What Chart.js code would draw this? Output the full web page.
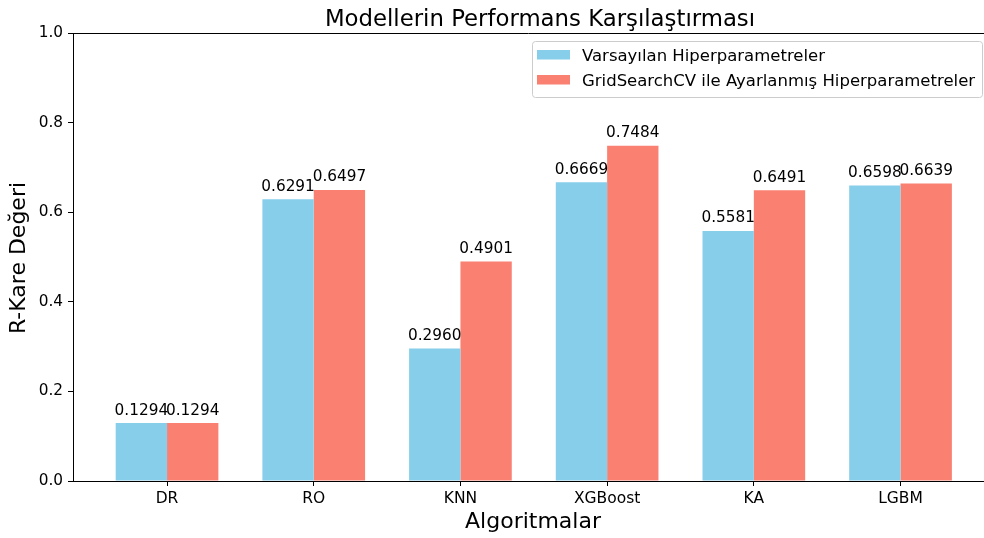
<!DOCTYPE html>
<html lang="tr">
<head>
<meta charset="utf-8">
<title>Modellerin Performans Karşılaştırması</title>
<script src="https://cdn.jsdelivr.net/npm/chart.js@4.4.1/dist/chart.umd.min.js"></script>
<style>
    html,body{margin:0;padding:0;background:#fff;}
    #wrap{width:984px;height:538px;position:relative;}
</style>
</head>
<body>
<div id="wrap"><canvas id="perfChart"></canvas></div>
<script>
/*========== Data ==========*/

const algorithms=["DR","RO","KNN","XGBoost","KA","LGBM"];
const defaultScores=[0.1294,0.6291,0.2960,0.6669,0.5581,0.6598];
const tunedScores=[0.1294,0.6497,0.4901,0.7484,0.6491,0.6639];
const seriesNames=["Varsayılan Hiperparametreler","GridSearchCV ile Ayarlanmış Hiperparametreler"];
const yTicks=[0,0.2,0.4,0.6,0.8,1.0];

const chartTitle="Modellerin Performans Karşılaştırması";
const xTitle="Algoritmalar";
const yTitle="R-Kare Değeri";

const FONT="'DejaVu Sans', 'Liberation Sans', sans-serif";
const $=id=>document.getElementById(id);

/*========== Plugins ==========*/

// value labels above each bar
const barLabels={
    id:"barLabels",
    afterDatasetsDraw(chart){
        const ctx=chart.ctx;
        ctx.save();
        ctx.font="15.3px "+FONT;
        ctx.fillStyle="#000";
        ctx.textAlign="center";
        ctx.textBaseline="alphabetic";
        chart.data.datasets.forEach((ds,i)=>{
            chart.getDatasetMeta(i).data.forEach((bar,j)=>{
                ctx.fillText(ds.data[j].y.toFixed(4),bar.x,bar.y-8.5);
            });
        });
        ctx.restore();
    }
};

// titles, top spine and the in-plot legend box
const decorations={
    id:"decorations",
    afterDraw(chart){
        const ctx=chart.ctx;
        const a=chart.chartArea;
        ctx.save();

        ctx.strokeStyle="#000";
        ctx.lineWidth=1;
        ctx.beginPath();
        ctx.moveTo(a.left,a.top+0.5);
        ctx.lineTo(a.right,a.top+0.5);
        ctx.stroke();

        ctx.fillStyle="#000";
        ctx.textAlign="center";
        ctx.textBaseline="alphabetic";
        ctx.font="22.8px "+FONT;
        ctx.fillText(chartTitle,540,26);

        ctx.font="22px "+FONT;
        ctx.fillText(xTitle,533,528);

        ctx.save();
        ctx.translate(25,258);
        ctx.rotate(-Math.PI/2);
        ctx.fillText(yTitle,0,0);
        ctx.restore();

        // legend
        const bx=532.5,by=41.5,bw=450,bh=56,r=3;
        ctx.beginPath();
        ctx.roundRect(bx,by,bw,bh,r);
        ctx.fillStyle="rgba(255,255,255,0.8)";
        ctx.fill();
        ctx.strokeStyle="#cccccc";
        ctx.stroke();

        ctx.font="16.5px "+FONT;
        ctx.textAlign="left";
        chart.data.datasets.forEach((ds,i)=>{
            const y=50+i*25;
            ctx.fillStyle=ds.backgroundColor;
            ctx.fillRect(537,y,33,9.5);
            ctx.fillStyle="#000";
            ctx.fillText(ds.label,582,y+11);
        });

        ctx.restore();
    }
};

/*========== Chart ==========*/

function buildChart(){

    Chart.defaults.font.family=FONT;
    Chart.defaults.color="#000";

    const toPoints=arr=>arr.map((v,i)=>({x:i,y:v}));

    new Chart($("perfChart"),{
        type:"bar",
        data:{
            datasets:[
                {label:seriesNames[0],data:toPoints(defaultScores),backgroundColor:"#87CEEB",borderWidth:0},
                {label:seriesNames[1],data:toPoints(tunedScores),backgroundColor:"#FA8072",borderWidth:0}
            ]
        },
        options:{
            responsive:true,
            maintainAspectRatio:false,
            animation:false,
            layout:{padding:{top:33,left:0,right:0,bottom:0}},
            datasets:{bar:{categoryPercentage:0.7,barPercentage:1}},
            plugins:{legend:{display:false},title:{display:false},tooltip:{enabled:false}},
            scales:{
                x:{
                    type:"linear",
                    min:-0.641,
                    max:5.569,
                    offset:false,
                    afterBuildTicks:axis=>{axis.ticks=algorithms.map((c,i)=>({value:i}));},
                    afterFit:axis=>{axis.height=57;},
                    ticks:{callback:v=>algorithms[v]??"",font:{size:15.5},padding:3.5,maxRotation:0,autoSkip:false},
                    grid:{display:true,drawOnChartArea:false,drawTicks:true,tickLength:5,color:"#000",offset:false},
                    border:{display:true,color:"#000",width:1}
                },
                y:{
                    min:0,
                    max:1,
                    afterBuildTicks:axis=>{axis.ticks=yTicks.map(v=>({value:v}));},
                    afterFit:axis=>{axis.width=73;},
                    ticks:{callback:v=>v.toFixed(1),font:{size:15.3},padding:5},
                    grid:{display:true,drawOnChartArea:false,drawTicks:true,tickLength:5,color:"#000"},
                    border:{display:true,color:"#000",width:1}
                }
            }
        },
        plugins:[barLabels,decorations]
    });

}

buildChart();
</script>
</body>
</html>
